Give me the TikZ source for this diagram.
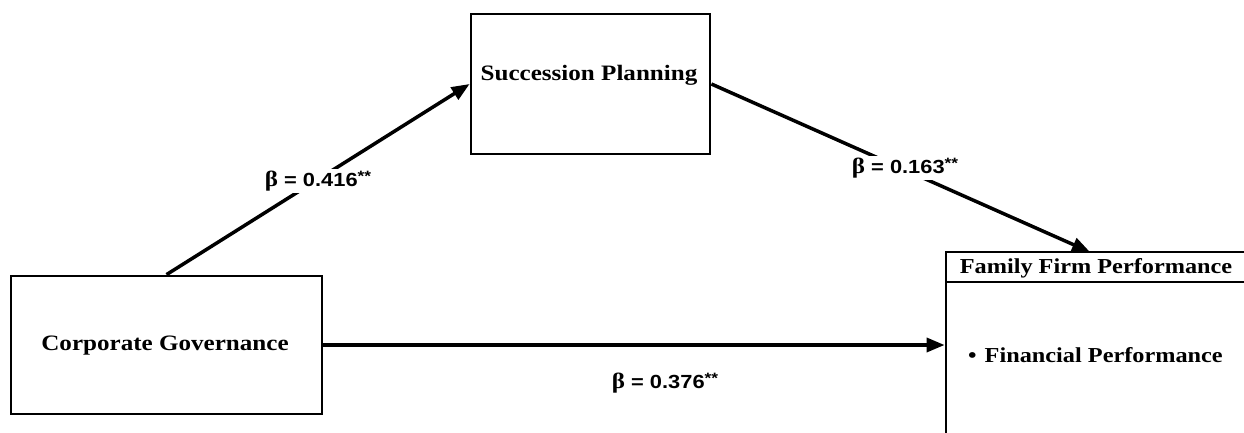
\documentclass[tikz,border=0pt]{standalone}
\usepackage{fontspec}
\setmainfont{Liberation Serif}[FakeStretch=1.14]
\newfontfamily\lsans{Liberation Sans}[FakeStretch=1.15]
\usetikzlibrary{arrows.meta}
\newcommand{\stars}{\raisebox{0.5ex}{\fontsize{15}{15}\selectfont **}}
\newcommand{\bet}{{\rmfamily\fontsize{22}{22}\selectfont β}}
\begin{document}
\begin{tikzpicture}[x=1pt,y=-1pt,
  box/.style={draw,line width=2.8pt,inner sep=0pt},
  boxtext/.style={font=\bfseries\fontsize{22}{25}\selectfont,inner sep=0pt},
  smalltext/.style={font=\bfseries\fontsize{21.3}{25}\selectfont,inner sep=0pt},
  conn/.style={line width=3.5pt,-{Triangle[length=18pt,width=14pt]}},
  beta/.style={font=\lsans\bfseries\fontsize{19}{21}\selectfont,fill=white,inner sep=2pt}]
\useasboundingbox (0,0) rectangle (1244,432);
% boxes
\node[box,minimum width=311pt,minimum height=138pt] (cg) at (166.5,345) {};
\node[box,minimum width=239pt,minimum height=140pt] (sp) at (590.5,84) {};
\node[box,minimum width=324pt,minimum height=186pt] (ffp) at (1108,345) {};
\coordinate (hl) at (946,282);
\draw[line width=2.8pt] (hl) -- (hl -| ffp.east);
% texts
\node[boxtext] (cgt) at (165,346) {Corporate Governance};
\node[boxtext] (spt) at (589,75) {Succession Planning};
\node[smalltext] (fft) at (1096,268) {Family Firm Performance};
\node[smalltext,anchor=west] (fpt) at (968,355) {•\hspace{8pt}Financial Performance};
% connectors
\coordinate (ffin) at (1090,252);
\draw[conn] (cg.north) -- (sp.west);
\draw[conn] (sp.east) -- (ffin);
\draw[conn] (cg.east) -- (ffp.west);
% labels
\node[beta] (b1) at (318,181) {\bet{} = 0.416\stars};
\node[beta] (b2) at (905,168) {\bet{} = 0.163\stars};
\node[beta] (b3) at (665,383) {\bet{} = 0.376\stars};
\end{tikzpicture}
\end{document}
